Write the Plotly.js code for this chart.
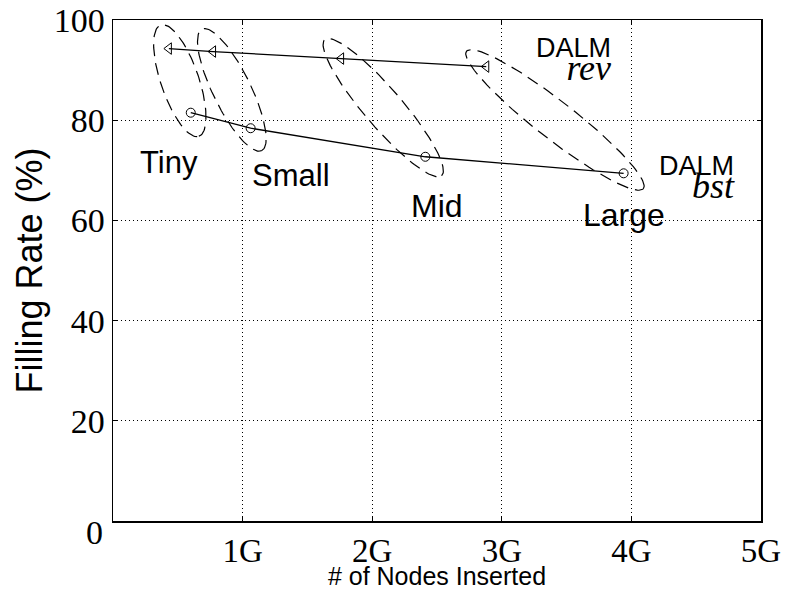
<!DOCTYPE html>
<html>
<head>
<meta charset="utf-8">
<script src="https://cdn.plot.ly/plotly-3.0.1.min.js"></script>
<style>html,body{margin:0;padding:0;background:#fff;}#chart{width:797px;height:590px;}</style>
</head>
<body>
<div id="chart"></div>
<script>
// ---- data ----
const groups = ["Tiny", "Small", "Mid", "Large"];
const revNodes = [0.431, 0.772, 1.76, 2.88];      // # of nodes inserted (G), DALM rev
const revRate  = [94.3, 93.7, 92.3, 90.7];        // filling rate (%), DALM rev
const bstNodes = [0.60, 1.062, 2.41, 3.94];       // # of nodes inserted (G), DALM bst
const bstRate  = [81.5, 78.4, 72.7, 69.4];        // filling rate (%), DALM bst
const xTickVals = [1, 2, 3, 4, 5];
const xTickText = ["1G", "2G", "3G", "4G", "5G"];
const yTickVals = [0, 20, 40, 60, 80, 100];
const yTickText = ["", "20", "40", "60", "80", "100"];

// ---- layout geometry ----
const W = 797, H = 590;
const M = {l: 113, r: 36, t: 20, b: 69};
const xRange = [0, 5], yRange = [0, 100];
const kx = (W - M.l - M.r) / (xRange[1] - xRange[0]);   // px per x unit
const ky = (H - M.t - M.b) / (yRange[1] - yRange[0]);   // px per y unit

// dashed ellipse enclosing a rev/bst pair, built in pixel space
function ellipse(x1, y1, x2, y2, pad, b) {
  const X1 = x1 * kx, Y1 = y1 * ky, X2 = x2 * kx, Y2 = y2 * ky;
  const cx = (X1 + X2) / 2, cy = (Y1 + Y2) / 2;
  const th = Math.atan2(Y2 - Y1, X2 - X1);
  const a = Math.hypot(X2 - X1, Y2 - Y1) / 2 + pad;
  const xs = [], ys = [];
  for (let i = 0; i <= 120; i++) {
    const t = 2 * Math.PI * i / 120;
    const ex = cx + a * Math.cos(t) * Math.cos(th) - b * Math.sin(t) * Math.sin(th);
    const ey = cy + a * Math.cos(t) * Math.sin(th) + b * Math.sin(t) * Math.cos(th);
    xs.push(ex / kx); ys.push(ey / ky);
  }
  return {x: xs, y: ys};
}

const traces = [];
groups.forEach((g, i) => {
  const e = ellipse(revNodes[i], revRate[i], bstNodes[i], bstRate[i], 25, 19);
  traces.push({
    type: "scatter", mode: "lines", x: e.x, y: e.y, name: g + " group",
    line: {color: "black", width: 1.2, dash: "12px,7px"},
    hoverinfo: "skip", showlegend: false
  });
});
traces.push({
  type: "scatter", mode: "lines+markers", name: "DALM rev",
  x: revNodes, y: revRate,
  line: {color: "black", width: 1.3},
  marker: {symbol: "triangle-left-open", size: 10, color: "black", line: {width: 1}},
  showlegend: false
});
traces.push({
  type: "scatter", mode: "lines+markers", name: "DALM bst",
  x: bstNodes, y: bstRate,
  line: {color: "black", width: 1.3},
  marker: {symbol: "circle-open", size: 9, color: "black", line: {width: 1}},
  showlegend: false
});

const sans = "Liberation Sans, Arial, sans-serif";
const serif = "Liberation Serif, Times New Roman, serif";

function lab(text, x, y, size, fam, style) {
  return {text: text, x: x, y: y, xref: "x", yref: "y", showarrow: false,
    font: {family: fam || sans, size: size, color: "black", style: style || "normal"},
    xanchor: "center", yanchor: "middle"};
}
// two-line series label: "DALM" over an italic subscript-like name
function series(word, x, y) {
  return {
    text: "<span style=\"font-size:27px\">DALM</span><br>" +
          "<span style=\"font-family:Liberation Serif;font-style:italic;font-size:36px\">" + word + "</span>",
    x: x, y: y, xref: "x", yref: "y", showarrow: false, align: "right",
    font: {family: sans, size: 18, color: "black"},
    xanchor: "right", yanchor: "middle"
  };
}

const annotations = [
  lab("Tiny", 0.432, 71.6, 31),
  lab("Small", 1.377, 69.0, 31),
  lab("Mid", 2.50, 62.8, 32),
  lab("Large", 3.943, 61.0, 32),
  series("rev", 3.858, 92.0),
  series("bst", 4.815, 68.4),
  {text: "0", x: -0.0278, y: -0.023, xref: "paper", yref: "paper", showarrow: false,
   xanchor: "center", yanchor: "middle", font: {family: serif, size: 34, color: "black"}}
];

const layout = {
  width: W, height: H,
  margin: M,
  paper_bgcolor: "white", plot_bgcolor: "white",
  showlegend: false,
  xaxis: {
    range: xRange, tickvals: xTickVals, ticktext: xTickText,
    showline: true, linecolor: "black", linewidth: 1.5, mirror: "ticks",
    ticks: "inside", ticklen: 4, tickcolor: "black",
    showgrid: true, gridcolor: "black", griddash: "1px,3px", gridwidth: 1,
    zeroline: false,
    tickfont: {family: serif, size: 33, color: "black"},
    title: {text: "# of Nodes Inserted", font: {family: sans, size: 25, color: "black"}, standoff: 10},
    automargin: false
  },
  yaxis: {
    range: yRange, tickvals: yTickVals, ticktext: yTickText,
    showline: true, linecolor: "black", linewidth: 1.5, mirror: "ticks",
    ticks: "inside", ticklen: 4, tickcolor: "black",
    showgrid: true, gridcolor: "black", griddash: "1px,3px", gridwidth: 1,
    zeroline: false,
    tickfont: {family: serif, size: 34, color: "black"},
    title: {text: "Filling Rate (%)", font: {family: sans, size: 36, color: "black"}, standoff: 0},
    automargin: false
  },
  annotations: annotations
};

Plotly.newPlot("chart", traces, layout, {displayModeBar: false, staticPlot: true});
</script>
</body>
</html>
